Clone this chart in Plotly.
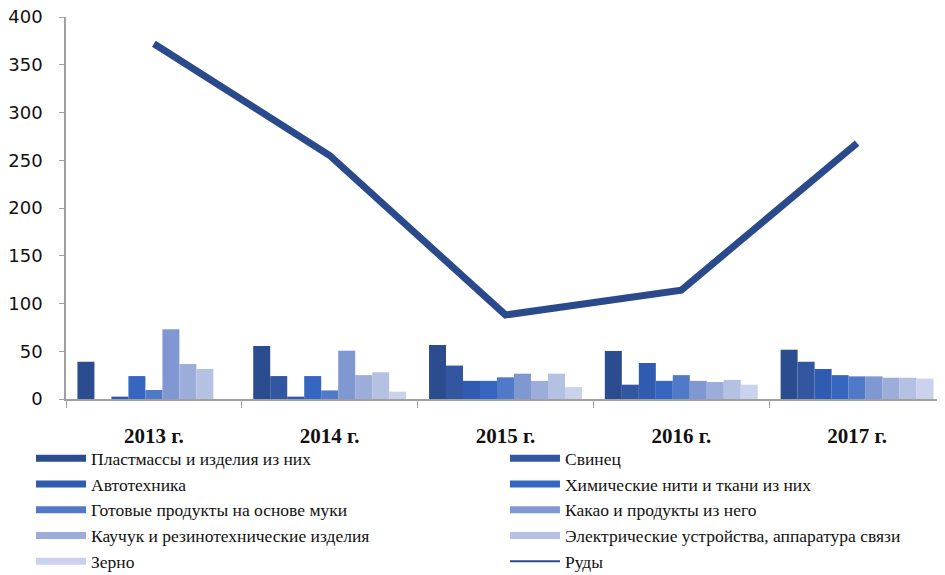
import plotly.graph_objects as go

years = ["2013 г.", "2014 г.", "2015 г.", "2016 г.", "2017 г."]

series_names = [
    "Пластмассы и изделия из них",
    "Свинец",
    "Автотехника",
    "Химические нити и ткани из них",
    "Готовые продукты на основе муки",
    "Какао и продукты из него",
    "Каучук и резинотехнические изделия",
    "Электрические устройства, аппаратура связи",
    "Зерно",
]
plastics = [39, 55.5, 56.5, 50.3, 51.6]
lead = [0, 24, 35, 15, 39]
autos = [2.5, 2.5, 19, 37.7, 31.4]
fibers = [24, 24, 19, 19, 25]
flour = [9.4, 9, 22.7, 25, 23.7]
cocoa = [73, 50.6, 26.5, 19, 23.7]
rubber = [36.6, 25, 19, 17.8, 22.3]
electric = [31.4, 28, 26.5, 20, 22.3]
grain = [0, 7.7, 12.5, 15, 21.3]
ores = [372, 255, 88, 114, 268]
ores_name = "Руды"

bar_values = [plastics, lead, autos, fibers, flour, cocoa, rubber, electric, grain]
colors = ["#2B4C8F", "#3256A0", "#2F5BB0", "#3566C0", "#5079C8",
          "#8098D2", "#9CADDA", "#B5C1E3", "#CBD3EC"]
line_color = "#2B4A8C"

fig = go.Figure()
for name, vals, col in zip(series_names, bar_values, colors):
    fig.add_trace(go.Bar(x=years, y=vals, name=name, marker_color=col,
                         marker_line_width=0, showlegend=False, legendgroup=name))

fig.add_trace(go.Scatter(x=years, y=ores, name=ores_name, mode="lines",
                         line=dict(color=line_color, width=7), showlegend=False,
                         legendgroup=ores_name))

# legend entries (line-style swatches like the reference), two columns
for i, (name, col) in enumerate(zip(series_names, colors)):
    fig.add_trace(go.Scatter(x=[None], y=[None], name=name, mode="lines",
                             line=dict(color=col, width=7), legendgroup=name,
                             legend="legend" if i % 2 == 0 else "legend2"))
fig.add_trace(go.Scatter(x=[None], y=[None], name=ores_name, mode="lines",
                         line=dict(color=line_color, width=2), legendgroup=ores_name,
                         legend="legend2"))

legend_common = dict(orientation="v", yanchor="top", xanchor="left",
                     font=dict(family="Liberation Serif", size=17.5, color="#111"),
                     itemwidth=50, tracegroupgap=0, bgcolor="rgba(0,0,0,0)")

fig.update_layout(
    width=937, height=567,
    margin=dict(l=58, r=0, t=9, b=176, autoexpand=False),
    plot_bgcolor="white", paper_bgcolor="white",
    barmode="group", bargap=0.13, bargroupgap=0,
    showlegend=True,
    legend=dict(x=-0.0398, y=-0.108, **legend_common),
    legend2=dict(x=0.4994, y=-0.108, **legend_common),
    xaxis=dict(type="category", showline=True, linecolor="#A0A0A0", linewidth=1.5,
               ticks="outside", tickson="boundaries", ticklen=7, tickcolor="#A0A0A0",
               tickfont=dict(family="Liberation Serif", size=21, color="#111", weight="bold"),
               ticklabelstandoff=17, showgrid=False),
    yaxis=dict(range=[0, 400], dtick=50, showline=True, linecolor="#A0A0A0", linewidth=1.5,
               ticks="outside", ticklen=5, tickcolor="#A0A0A0", showgrid=False,
               zeroline=False, ticklabeloverflow="allow",
               tickfont=dict(family="DejaVu Sans", size=18, color="#111"),
               ticklabelstandoff=13),
)

fig.write_html("out.html")
